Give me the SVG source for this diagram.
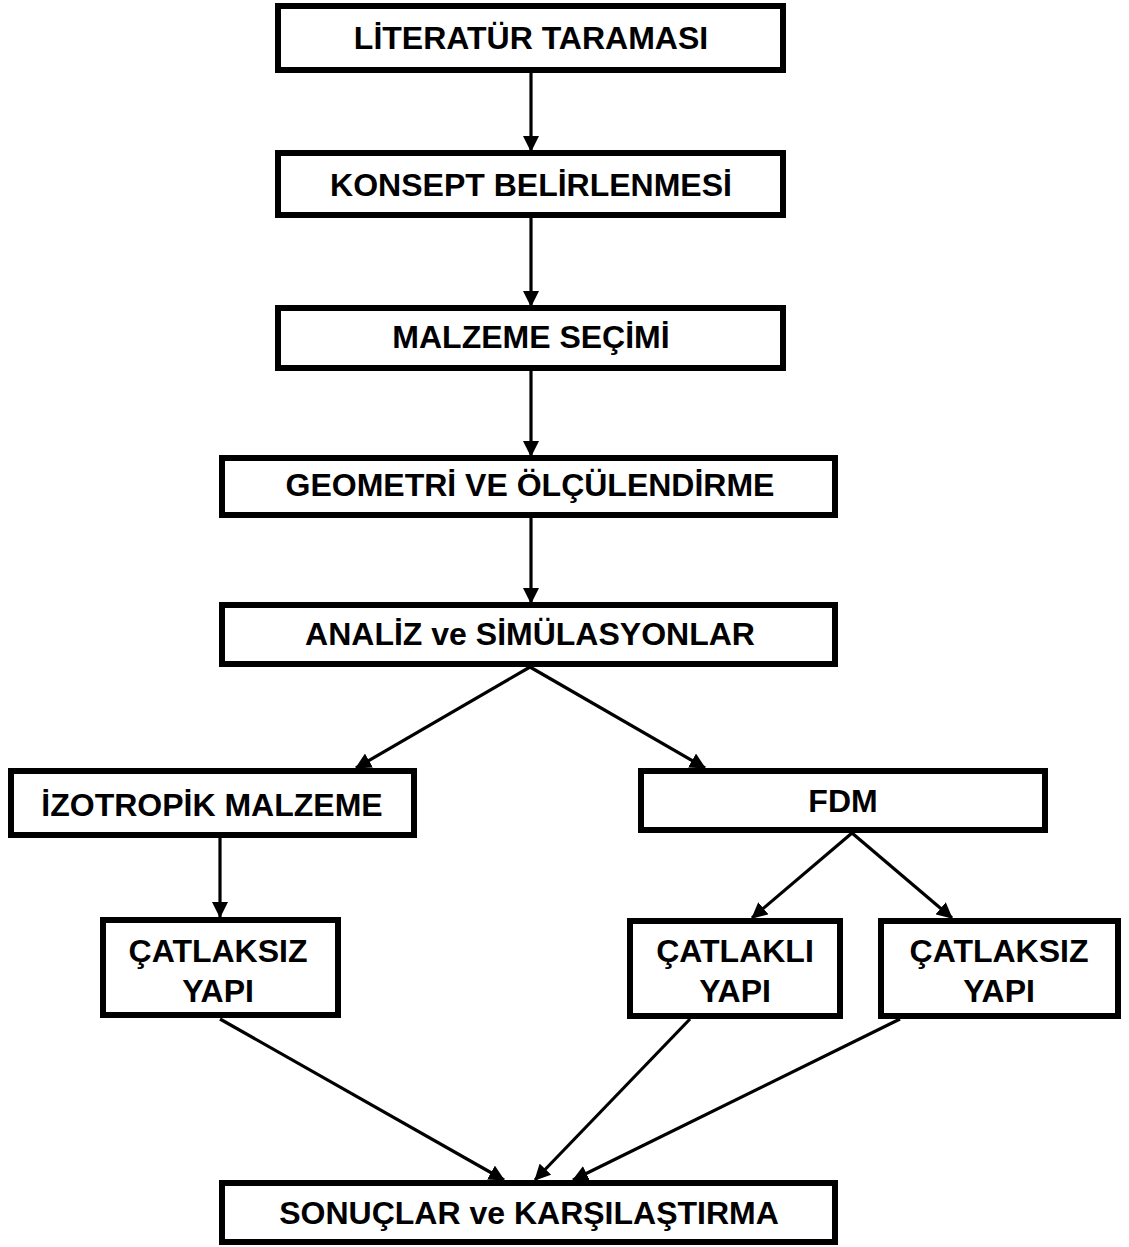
<svg xmlns="http://www.w3.org/2000/svg" width="1129" height="1247" viewBox="0 0 1129 1247">
<style>
.box{fill:#fff;stroke:#000;stroke-width:6}
.t{font-family:"Liberation Sans",Arial,sans-serif;font-weight:bold;font-size:32px;fill:#000;text-anchor:middle}
.c{stroke:#000;stroke-width:3.2;fill:none;marker-end:url(#ah)}
</style>
<defs>
<marker id="ah" viewBox="0 0 16 16" markerWidth="16" markerHeight="16" refX="15" refY="8" orient="auto" markerUnits="userSpaceOnUse">
<path d="M0,0 L16,8 L0,16 z" fill="#000"/>
</marker>
</defs>
<rect width="1129" height="1247" fill="#fff"/>
<g id="connectors">
<line class="c" x1="531" y1="73" x2="531" y2="151"/>
<line class="c" x1="531" y1="218" x2="531" y2="306"/>
<line class="c" x1="531" y1="371" x2="531" y2="456"/>
<line class="c" x1="531" y1="518" x2="531" y2="603"/>
<line class="c" x1="530" y1="667" x2="356" y2="768"/>
<line class="c" x1="530" y1="667" x2="705" y2="768"/>
<line class="c" x1="220" y1="838" x2="220" y2="917"/>
<line class="c" x1="852" y1="833" x2="752" y2="918"/>
<line class="c" x1="852" y1="833" x2="952" y2="918"/>
<line class="c" x1="220" y1="1019" x2="504" y2="1180"/>
<line class="c" x1="690" y1="1019" x2="535" y2="1180"/>
<line class="c" x1="900" y1="1019" x2="573" y2="1180"/>
</g>
<g id="n1"><rect class="box" x="278" y="6" width="505" height="64"/><text class="t" x="531" y="49">LİTERATÜR TARAMASI</text></g>
<g id="n2"><rect class="box" x="278" y="153" width="505" height="62"/><text class="t" x="531" y="196">KONSEPT BELİRLENMESİ</text></g>
<g id="n3"><rect class="box" x="278" y="308" width="505" height="60"/><text class="t" x="531" y="348">MALZEME SEÇİMİ</text></g>
<g id="n4"><rect class="box" x="222" y="458" width="613" height="57"/><text class="t" x="530" y="496">GEOMETRİ VE ÖLÇÜLENDİRME</text></g>
<g id="n5"><rect class="box" x="222" y="605" width="613" height="59"/><text class="t" x="530" y="645">ANALİZ ve SİMÜLASYONLAR</text></g>
<g id="n6"><rect class="box" x="11" y="771" width="403" height="64"/><text class="t" x="212" y="816">İZOTROPİK MALZEME</text></g>
<g id="n7"><rect class="box" x="641" y="771" width="404" height="59"/><text class="t" x="843" y="812">FDM</text></g>
<g id="n8"><rect class="box" x="103" y="920" width="235" height="95"/><text class="t" x="218" y="962">ÇATLAKSIZ</text><text class="t" x="218" y="1002">YAPI</text></g>
<g id="n9"><rect class="box" x="630" y="921" width="210" height="95"/><text class="t" x="735" y="962">ÇATLAKLI</text><text class="t" x="735" y="1002">YAPI</text></g>
<g id="n10"><rect class="box" x="881" y="921" width="237" height="95"/><text class="t" x="999" y="962">ÇATLAKSIZ</text><text class="t" x="999" y="1002">YAPI</text></g>
<g id="n11"><rect class="box" x="222" y="1183" width="613" height="59"/><text class="t" x="529" y="1224">SONUÇLAR ve KARŞILAŞTIRMA</text></g>
</svg>
